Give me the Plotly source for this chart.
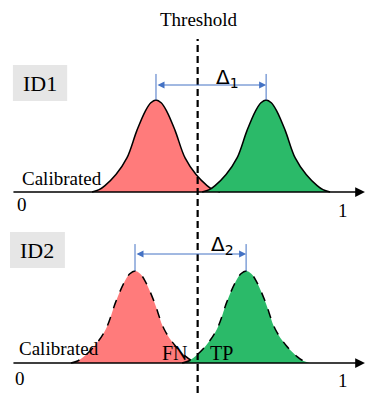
import plotly.graph_objects as go

# shared bell profile (offset in score units, relative height)
profile_offset = [-0.198, -0.176, -0.158, -0.124, -0.090, -0.059, -0.033, -0.016, 0.0,
                  0.016, 0.033, 0.059, 0.090, 0.124, 0.158, 0.176, 0.198]
profile_height = [0.0, 0.025, 0.07, 0.19, 0.37, 0.67, 0.88, 0.97, 1.0,
                  0.97, 0.88, 0.67, 0.37, 0.19, 0.07, 0.025, 0.0]

# peak positions on the 0..1 score axis
id1_centers = [0.421, 0.762]   # negative (red), positive (green)
id2_centers = [0.356, 0.700]
threshold = 0.55

delta_labels = ["Δ<sub>1</sub>", "Δ<sub>2</sub>"]
panel_names = ["ID1", "ID2"]

RED = "rgb(255,123,123)"
GREEN = "rgb(43,186,105)"
BLUE = "rgb(68,114,196)"
SERIF = "Liberation Serif"

fig = go.Figure()


def add_curve(center, color, yaxis, dash):
    fig.add_trace(go.Scatter(
        x=[center + o for o in profile_offset],
        y=profile_height,
        mode="lines",
        line=dict(color="black", width=1.5, shape="spline", dash=dash),
        fill="tozeroy",
        fillcolor=color,
        yaxis=yaxis,
        hoverinfo="skip",
        showlegend=False,
    ))


add_curve(id1_centers[0], RED, "y", "solid")
add_curve(id1_centers[1], GREEN, "y", "solid")
add_curve(id2_centers[0], RED, "y2", "dash")
add_curve(id2_centers[1], GREEN, "y2", "dash")

shapes = []
annotations = []

# threshold line through both panels
shapes.append(dict(type="line", xref="x", yref="y", x0=threshold, x1=threshold,
                   y0=-2.185, y1=1.663, line=dict(color="black", width=2.2, dash="7px,4px")))
annotations.append(dict(text="Threshold", x=0.554, y=1.87, xref="x", yref="y",
                        showarrow=False, font=dict(family=SERIF, size=19, color="black")))

panels = [
    dict(yref="y", centers=id1_centers, box=(-0.022, 0.146, 0.989, 1.38), name_xy=(0.062, 1.174),
         arrow_y=1.163, tick_top=1.283, delta_xy=(0.641, 1.239), cal_xy=(0.130, 0.152),
         zero_xy=(0.006, -0.141), one_xy=(1.0, -0.196)),
    dict(yref="y2", centers=id2_centers, box=(-0.031, 0.139, 1.033, 1.424), name_xy=(0.054, 1.228),
         arrow_y=1.185, tick_top=1.293, delta_xy=(0.628, 1.283), cal_xy=(0.121, 0.163),
         zero_xy=(0.0, -0.163), one_xy=(1.0, -0.185)),
]

for i, p in enumerate(panels):
    yr = p["yref"]
    x0, x1, y0, y1 = p["box"]
    shapes.append(dict(type="rect", xref="x", yref=yr, x0=x0, x1=x1, y0=y0, y1=y1,
                       fillcolor="rgb(230,230,230)", line=dict(width=0), layer="below"))
    annotations.append(dict(text=panel_names[i], x=p["name_xy"][0], y=p["name_xy"][1],
                            xref="x", yref=yr, showarrow=False,
                            font=dict(family=SERIF, size=22, color="black")))
    # score axis with arrow
    annotations.append(dict(x=1.068, y=0, ax=-0.025, ay=0, xref="x", yref=yr,
                            axref="x", ayref=yr, text="", showarrow=True,
                            arrowhead=2, arrowsize=1.3, arrowwidth=1.5, arrowcolor="black"))
    # delta arrow between peaks
    c0, c1 = p["centers"]
    for c in (c0, c1):
        shapes.append(dict(type="line", xref="x", yref=yr, x0=c, x1=c, y0=1.0, y1=p["tick_top"],
                           line=dict(color=BLUE, width=1)))
    annotations.append(dict(x=c1, y=p["arrow_y"], ax=c0, ay=p["arrow_y"], xref="x", yref=yr,
                            axref="x", ayref=yr, text="", showarrow=True, arrowside="end+start",
                            arrowhead=2, arrowsize=1.4, arrowwidth=1, arrowcolor=BLUE))
    annotations.append(dict(text=delta_labels[i], x=p["delta_xy"][0], y=p["delta_xy"][1],
                            xref="x", yref=yr, showarrow=False,
                            font=dict(family="DejaVu Sans", size=20, color="black")))
    annotations.append(dict(text="Calibrated", x=p["cal_xy"][0], y=p["cal_xy"][1],
                            xref="x", yref=yr, showarrow=False,
                            font=dict(family=SERIF, size=19, color="black")))
    annotations.append(dict(text="0", x=p["zero_xy"][0], y=p["zero_xy"][1], xref="x", yref=yr,
                            showarrow=False, font=dict(family=SERIF, size=19, color="black")))
    annotations.append(dict(text="1", x=p["one_xy"][0], y=p["one_xy"][1], xref="x", yref=yr,
                            showarrow=False, font=dict(family=SERIF, size=19, color="black")))

annotations.append(dict(text="FN", x=0.48, y=0.109, xref="x", yref="y2", showarrow=False,
                        font=dict(family=SERIF, size=20, color="black")))
annotations.append(dict(text="TP", x=0.625, y=0.109, xref="x", yref="y2", showarrow=False,
                        font=dict(family=SERIF, size=20, color="black")))

# the page body adds an 8px margin, so the figure is drawn 8px smaller and the ranges
# start at the 8th pixel of the window
fig.update_layout(
    width=366, height=399,
    margin=dict(l=0, r=0, t=0, b=0),
    paper_bgcolor="white", plot_bgcolor="white",
    showlegend=False,
    xaxis=dict(range=[-0.0372, 1.096], visible=False, fixedrange=True),
    yaxis=dict(range=[-2.337, 2.0], domain=[0, 1], visible=False, fixedrange=True),
    yaxis2=dict(range=[-0.478, 3.859], domain=[0, 1], overlaying="y", visible=False, fixedrange=True),
    shapes=shapes,
    annotations=annotations,
)

fig.write_html("out.html")
